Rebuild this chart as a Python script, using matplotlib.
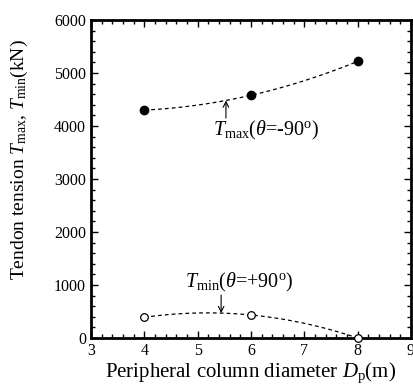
import numpy as np
import matplotlib.pyplot as plt
from matplotlib.ticker import MultipleLocator

plt.rcParams['font.family'] = 'Liberation Serif'
plt.rcParams['mathtext.fontset'] = 'custom'
plt.rcParams['mathtext.rm'] = 'Liberation Serif'
plt.rcParams['mathtext.it'] = 'Liberation Serif:italic'

# peripheral column diameter (m) and tendon tensions (kN)
diam = [4, 6, 8]
t_max = [4300, 4580, 5220]
t_min = [390, 434, 0]

fig = plt.figure(figsize=(4.13, 3.92), dpi=100)
ax = fig.add_axes([91 / 413, 54 / 392, 320 / 413, 318 / 392])

# quadratic trend lines through each series
xs = np.linspace(4, 8, 100)
fits = []
for vals in (t_max, t_min):
    c = np.polyfit(diam, vals, 2)
    fits.append(c)
    ax.plot(xs, np.polyval(c, xs), 'k', ls=(0, (3, 2.5)), lw=0.9)

ax.plot(diam, t_max, 'o', color='k', ms=6, clip_on=False, zorder=3)
ax.plot(diam, t_min, 'o', mfc='white', mec='k', mew=0.9, ms=5.5, clip_on=False, zorder=3)

ax.set_xlim(3, 9)
ax.set_ylim(0, 6000)
ax.xaxis.set_major_locator(MultipleLocator(1))
ax.xaxis.set_minor_locator(MultipleLocator(0.2))
ax.yaxis.set_major_locator(MultipleLocator(1000))
ax.yaxis.set_minor_locator(MultipleLocator(200))
ax.tick_params(which='both', direction='in', top=True, right=True, labelsize=11.5, width=1)
ax.tick_params(which='major', length=5)
ax.tick_params(which='minor', length=3)
for s in ax.spines.values():
    s.set_linewidth(2)

ax.set_xlabel(r'Peripheral column diameter $D_{\rm p}$(m)', fontsize=15)
ax.xaxis.set_label_coords(0.5, -0.072)
ax.set_ylabel(r'Tendon tension $T_{\rm max}$, $T_{\rm min}$(kN)', fontsize=14)
ax.yaxis.set_label_coords(-0.19, 0.56)

# curve labels with arrows pointing at the trend lines
ax.text(5.29, 3830, r'$T_{\rm max}(\theta$=-90$^{\rm o}$)', fontsize=14.5)
x_a = 5.53
ax.annotate('', xy=(x_a, np.polyval(fits[0], x_a)), xytext=(x_a, 4150),
            arrowprops=dict(arrowstyle='->', color='k', lw=0.8, shrinkA=0, shrinkB=0))

ax.text(4.76, 962, r'$T_{\rm min}(\theta$=+90$^{\rm o}$)', fontsize=14.5)
x_b = 5.44
ax.annotate('', xy=(x_b, np.polyval(fits[1], x_b)), xytext=(x_b, 811),
            arrowprops=dict(arrowstyle='->', color='k', lw=0.8, shrinkA=0, shrinkB=0))

fig.savefig('out.png', dpi=100)
